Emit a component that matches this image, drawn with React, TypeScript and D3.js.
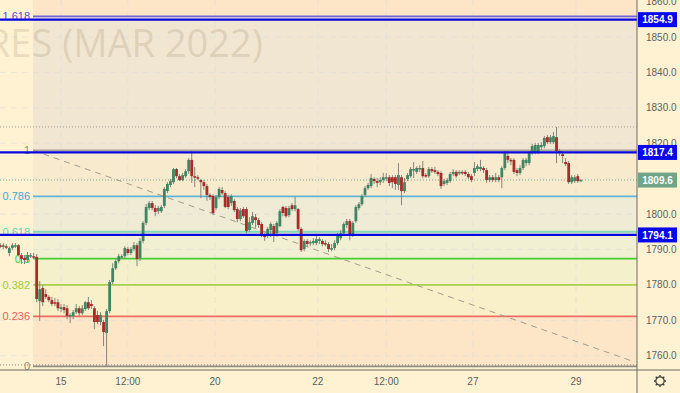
import React from "react";
import * as d3 from "d3";

const opens = [
1791.2,1790.7,1790.9,1789.0,1790.4,1790.9,1791.2,1788.4,1787.6,1787.0,
1788.1,1788.1,1787.9,1775.4,1779.1,1777.4,1776.6,1775.7,1775.1,1775.1,
1773.2,1773.7,1773.4,1771.2,1771.2,1772.3,1773.4,1772.0,1773.2,1775.1,
1774.6,1773.4,1771.5,1769.5,1769.5,1766.4,1772.6,1780.8,1784.7,1786.7,
1787.9,1788.1,1790.1,1789.0,1790.1,1791.2,1787.6,1792.4,1797.5,1801.7,
1803.1,1801.7,1800.8,1800.8,1802.3,1806.5,1808.2,1809.0,1812.7,1810.7,
1809.6,1810.7,1812.1,1815.3,1810.7,1810.4,1809.6,1809.0,1807.9,1805.4,
1805.1,1801.7,1804.8,1806.8,1805.9,1804.8,1803.1,1803.7,1801.4,1798.6,
1801.4,1801.4,1795.5,1797.5,1799.1,1798.3,1797.2,1794.1,1793.8,1795.5,
1796.6,1794.6,1796.6,1802.0,1801.7,1799.7,1802.5,1801.4,1801.4,1795.8,
1790.1,1792.4,1791.8,1791.8,1791.8,1792.4,1792.4,1791.8,1791.5,1790.1,
1790.4,1791.8,1793.2,1794.6,1796.9,1798.0,1794.1,1798.0,1801.7,1802.8,
1805.4,1807.3,1807.9,1809.9,1809.3,1809.0,1809.6,1810.2,1810.4,1810.4,
1810.4,1808.2,1810.4,1806.5,1809.9,1810.7,1812.4,1811.9,1812.7,1813.0,
1811.0,1810.7,1812.7,1812.4,1811.9,1811.6,1808.5,1808.8,1809.3,1811.3,
1811.9,1811.6,1811.9,1811.9,1811.3,1810.7,1811.6,1812.7,1812.7,1813.0,
1812.4,1809.6,1810.4,1809.6,1810.4,1810.4,1813.0,1816.4,1815.3,1815.3,
1812.4,1811.6,1813.0,1814.4,1814.4,1817.2,1817.5,1817.5,1818.9,1819.2,
1821.7,1820.3,1820.3,1821.7,1817.8,1816.9,1814.7,1814.4,1809.0,1809.3,
1810.7,1809.3];

const closes = [
1790.7,1791.2,1790.7,1790.4,1791.2,1791.2,1788.4,1787.3,1787.0,1788.4,
1788.4,1787.9,1776.0,1778.8,1775.1,1776.6,1775.7,1774.6,1774.8,1773.4,
1773.7,1772.9,1771.2,1771.5,1772.3,1773.4,1772.0,1773.4,1775.1,1773.4,
1774.0,1769.5,1769.5,1771.5,1766.7,1772.6,1780.8,1784.7,1786.7,1788.1,
1788.1,1790.4,1789.0,1790.1,1791.2,1787.3,1792.4,1797.5,1802.0,1803.1,
1801.7,1800.6,1801.7,1802.0,1807.1,1808.5,1809.3,1812.7,1810.7,1809.6,
1811.0,1812.1,1815.3,1810.7,1810.4,1810.2,1809.0,1807.9,1805.4,1804.8,
1800.3,1804.8,1807.1,1805.9,1802.0,1802.0,1805.1,1801.1,1798.6,1801.1,
1799.4,1795.2,1797.7,1799.4,1798.3,1796.9,1794.1,1793.5,1795.8,1797.2,
1794.1,1797.5,1800.8,1800.3,1799.4,1801.7,1801.4,1802.5,1795.8,1789.8,
1792.4,1791.5,1792.1,1792.4,1792.9,1792.9,1791.5,1791.5,1790.1,1790.4,
1791.8,1793.8,1794.6,1797.2,1798.0,1794.1,1797.5,1802.0,1802.8,1805.1,
1807.3,1808.2,1810.2,1809.3,1808.8,1809.6,1810.4,1810.4,1808.8,1809.0,
1808.5,1811.0,1806.5,1809.0,1811.0,1812.7,1812.7,1813.0,1813.0,1810.7,
1810.7,1812.7,1812.1,1811.9,1811.3,1807.9,1809.3,1809.6,1811.3,1811.9,
1810.7,1811.9,1811.6,1811.3,1810.4,1809.6,1813.0,1813.5,1813.3,1812.4,
1809.6,1810.4,1809.6,1810.4,1809.6,1813.0,1817.2,1815.3,1815.0,1811.9,
1811.6,1813.0,1815.3,1815.3,1817.2,1819.2,1819.5,1819.5,1819.5,1821.5,
1820.3,1821.7,1822.0,1817.8,1817.2,1816.4,1814.1,1809.0,1810.4,1810.4,
1809.3,1809.6];

const highs = [
1791.8,1791.8,1791.5,1790.9,1791.8,1791.8,1791.5,1789.0,1788.4,1789.3,
1789.0,1789.0,1788.7,1781.1,1779.9,1778.8,1777.1,1776.6,1776.3,1776.0,
1774.6,1774.6,1774.3,1772.0,1772.9,1774.6,1774.0,1774.3,1775.4,1776.6,
1775.7,1774.0,1772.6,1772.3,1770.1,1773.2,1781.4,1786.1,1787.3,1788.7,
1788.7,1790.9,1790.7,1790.7,1792.1,1791.8,1793.2,1798.0,1802.8,1803.7,
1803.7,1802.5,1802.3,1802.5,1807.6,1809.0,1809.9,1813.0,1813.0,1811.3,
1811.6,1812.7,1815.8,1817.8,1813.3,1811.0,1809.9,1809.6,1808.5,1805.9,
1805.6,1805.4,1807.6,1807.6,1806.5,1805.4,1805.6,1804.2,1802.0,1801.7,
1802.0,1802.0,1799.1,1800.6,1800.0,1798.9,1797.7,1794.6,1796.3,1797.7,
1797.2,1798.0,1801.4,1802.3,1802.3,1802.3,1803.1,1804.8,1801.7,1796.3,
1792.9,1792.9,1792.6,1793.2,1793.8,1793.5,1792.9,1792.6,1792.1,1791.5,
1792.6,1794.6,1795.5,1797.7,1798.6,1798.6,1798.0,1802.5,1803.4,1805.6,
1807.9,1808.8,1811.3,1810.4,1810.2,1810.4,1811.6,1811.6,1811.0,1811.0,
1811.0,1814.4,1811.0,1810.2,1811.6,1813.3,1814.7,1813.5,1813.8,1815.0,
1811.6,1813.3,1813.3,1813.3,1812.4,1812.1,1809.9,1810.2,1811.9,1812.7,
1812.4,1812.4,1812.4,1812.4,1811.9,1811.3,1814.7,1814.1,1815.3,1813.5,
1813.0,1811.0,1811.0,1811.6,1811.0,1813.5,1817.8,1817.8,1815.8,1815.8,
1813.0,1813.8,1815.8,1815.8,1817.8,1819.8,1820.1,1820.1,1820.3,1822.0,
1822.3,1822.3,1823.2,1824.6,1818.4,1817.8,1815.8,1815.0,1811.0,1811.0,
1811.3,1809.9];

const lows = [
1790.4,1790.1,1790.1,1788.1,1789.8,1790.4,1788.1,1785.9,1785.9,1786.4,
1787.6,1787.3,1775.1,1769.8,1774.0,1776.0,1775.1,1774.0,1774.0,1772.6,
1772.3,1772.0,1770.3,1769.2,1770.3,1771.8,1771.2,1771.5,1772.6,1772.9,
1773.2,1767.5,1768.9,1768.6,1762.7,1756.8,1772.0,1780.2,1784.2,1786.1,
1787.3,1787.6,1788.4,1788.4,1789.5,1785.3,1786.7,1791.8,1796.9,1801.1,
1801.1,1799.4,1800.0,1800.3,1801.7,1805.9,1807.6,1808.5,1810.2,1809.3,
1809.3,1810.2,1811.3,1808.8,1807.6,1809.6,1804.5,1806.8,1803.7,1804.0,
1799.7,1801.1,1804.2,1805.4,1801.7,1801.4,1802.3,1800.6,1797.7,1798.0,
1798.9,1794.6,1794.9,1796.9,1796.1,1796.1,1793.5,1792.4,1793.2,1793.5,
1792.1,1794.1,1796.3,1799.4,1798.9,1799.1,1800.8,1800.8,1795.2,1789.3,
1789.5,1790.7,1790.9,1791.2,1791.2,1791.5,1790.9,1790.9,1789.3,1789.5,
1789.8,1791.2,1792.6,1794.1,1796.1,1792.6,1793.5,1797.5,1801.1,1802.3,
1804.8,1806.8,1807.3,1808.5,1807.6,1808.2,1808.8,1809.3,1807.9,1807.3,
1806.8,1806.8,1802.5,1805.9,1809.3,1810.2,1810.2,1811.3,1811.9,1810.2,
1810.2,1810.2,1811.6,1811.3,1810.7,1807.1,1807.9,1808.2,1808.8,1810.7,
1810.2,1811.0,1811.0,1810.7,1809.9,1809.0,1810.7,1812.1,1812.1,1811.6,
1808.8,1809.0,1809.0,1809.0,1809.0,1807.3,1812.4,1814.4,1813.8,1811.3,
1810.7,1811.0,1812.4,1813.5,1813.8,1816.7,1816.9,1816.9,1818.1,1818.6,
1819.8,1819.8,1819.8,1814.4,1816.4,1814.4,1813.5,1808.5,1808.5,1808.8,
1808.8,1809.3];

const priceTicks = [1760, 1770, 1780, 1790, 1800, 1810, 1820, 1830, 1840, 1850, 1860];
const timeLabels = ["15", "12:00", "20", "22", "12:00", "27", "29"];
const timeTickIndex = [20, 42, 70.7, 104.5, 127, 155.5, 189.4];

const fibLabels = ["1.618", "1", "0.786", "0.618", "0.5", "0.382", "0.236", "0"];
const fibPrices = [1855.8, 1818.0, 1805.0, 1795.0, 1787.4, 1780.0, 1771.1, 1757.0];
const fibColors = ["#6f63d8", "#a8a49a", "#62b4d6", "#7fd9b4", "#45cf2e", "#a9cf4c", "#ec6e62", "#8f8c84"];
const fibLabelColors = ["#5a50c8", "#8f8c84", "#45a6d6", "#5fd6a8", "#45cf2e", "#9ccb3c", "#ec5f55", "#8f8c84"];
const zoneColors = ["#f1e6d1", "#f8ebcd", "#f0ebd4", "#f1f0d3", "#f4f0cc", "#f9efc9", "#fde6c8"];

const blueLevels = [1854.9, 1817.4, 1794.1];
const lastPrice = 1809.6;
const highLevel = 1824.6;
const lowLevel = 1757.4;

const W = 680;
const H = 393;
const plotRight = 637;
const axisY = 370;
const zoneLeft = 33;

const y = d3.scaleLinear().domain([1760, 1850]).range([355.7, 37]);
const x = d3.scaleLinear().domain([0, 191]).range([0.2, 580.84]);

const font = "'Liberation Sans', Arial, sans-serif";
const AXIS_TEXT = "#5f5f5a";
const UP = "#3f8662";
const DOWN = "#a52c28";
const WICK = "#85857d";

const gearAngles = d3.range(8).map((i) => (i * Math.PI) / 4);

export default function App() {
  return (
    <svg width={W} height={H} style={{ position: "absolute", left: 0, top: 0 }} fontFamily={font}>
      <rect width={W} height={H} fill="#fff2d2" />
      <rect x={zoneLeft} y={0} width={plotRight - zoneLeft} height={y(fibPrices[0])} fill="#fde6c8" />
      {zoneColors.map((c, i) => (
        <rect
          key={i}
          x={zoneLeft}
          y={y(fibPrices[i])}
          width={plotRight - zoneLeft}
          height={y(fibPrices[i + 1]) - y(fibPrices[i])}
          fill={c}
        />
      ))}
      {priceTicks.slice(0, -1).map((t) => (
        <line key={t} x1={0} x2={plotRight} y1={y(t)} y2={y(t)} stroke="#dcdcdc" strokeOpacity={0.6} strokeDasharray="6 5" />
      ))}
      {timeTickIndex.map((t) => (
        <line key={t} x1={x(t)} x2={x(t)} y1={0} y2={axisY} stroke="#dcdcdc" strokeOpacity={0.6} strokeDasharray="6 5" />
      ))}
      <text x={263} y={57} textAnchor="end" fontFamily="'Open Sans', sans-serif" fontSize={38} fill="#8c7a5a" fillOpacity={0.2}>
        GOLD FUTURES (MAR 2022)
      </text>
      {fibPrices.map((p, i) => (
        <g key={i}>
          <line x1={zoneLeft} x2={plotRight} y1={y(p)} y2={y(p)} stroke={fibColors[i]} strokeWidth={1.8} />
          <text x={30} y={y(p) + 4} textAnchor="end" fontSize={11} fill={fibLabelColors[i]}>
            {fibLabels[i]}
          </text>
        </g>
      ))}
      <line x1={0} x2={plotRight} y1={y(highLevel)} y2={y(highLevel)} stroke="#a09c92" strokeDasharray="1 2" />
      <line x1={0} x2={plotRight} y1={y(lowLevel)} y2={y(lowLevel)} stroke="#8c8980" strokeDasharray="1 2" />
      <line x1={0} x2={plotRight} y1={y(lastPrice)} y2={y(lastPrice)} stroke="#6fa487" strokeDasharray="1 2" />
      <line x1={zoneLeft} y1={y(1818)} x2={plotRight - 2} y2={y(1758.2)} stroke="#a29c90" strokeDasharray="6 5" />

      {opens.map((o, i) => {
        const c = closes[i];
        const up = c >= o;
        const top = y(Math.max(o, c));
        const bot = y(Math.min(o, c));
        return (
          <g key={i}>
            <line x1={x(i)} x2={x(i)} y1={y(highs[i])} y2={y(lows[i])} stroke={WICK} strokeWidth={1} />
            <rect x={x(i) - 1.4} y={top} width={2.8} height={Math.max(bot - top, 1.5)} fill={up ? UP : DOWN} />
          </g>
        );
      })}

      {blueLevels.map((p) => (
        <line key={p} x1={0} x2={plotRight} y1={y(p)} y2={y(p)} stroke="#0606e0" strokeWidth={2.2} />
      ))}

      <line x1={plotRight} x2={plotRight} y1={0} y2={H} stroke="#6e6a60" />
      <line x1={0} x2={W} y1={axisY} y2={axisY} stroke="#6e6a60" />

      {priceTicks.map((t) => (
        <text key={t} x={646} y={y(t) + 3.5} fontSize={10} fill={AXIS_TEXT}>
          {t.toFixed(1)}
        </text>
      ))}
      {timeTickIndex.map((t, i) => (
        <text key={t} x={x(t)} y={385} textAnchor="middle" fontSize={10} fill={AXIS_TEXT}>
          {timeLabels[i]}
        </text>
      ))}

      {blueLevels.map((p) => (
        <g key={p}>
          <rect x={638} y={y(p) - 7.5} width={39} height={15} fill="#0606ee" />
          <text x={657.5} y={y(p) + 3.6} textAnchor="middle" fontSize={10} fontWeight={700} fill="#ffffff">
            {p.toFixed(1)}
          </text>
        </g>
      ))}
      <rect x={638} y={y(lastPrice) - 7.5} width={39} height={15} fill="#6fa487" />
      <text x={657.5} y={y(lastPrice) + 3.6} textAnchor="middle" fontSize={10} fontWeight={700} fill="#ffffff">
        {lastPrice.toFixed(1)}
      </text>

      <g transform="translate(660,381)" stroke="#3c3c38" fill="none">
        <circle r={4.2} strokeWidth={1.2} />
        {gearAngles.map((a) => (
          <line key={a} x1={4.2 * Math.cos(a)} y1={4.2 * Math.sin(a)} x2={6 * Math.cos(a)} y2={6 * Math.sin(a)} strokeWidth={1.4} />
        ))}
      </g>
    </svg>
  );
}
